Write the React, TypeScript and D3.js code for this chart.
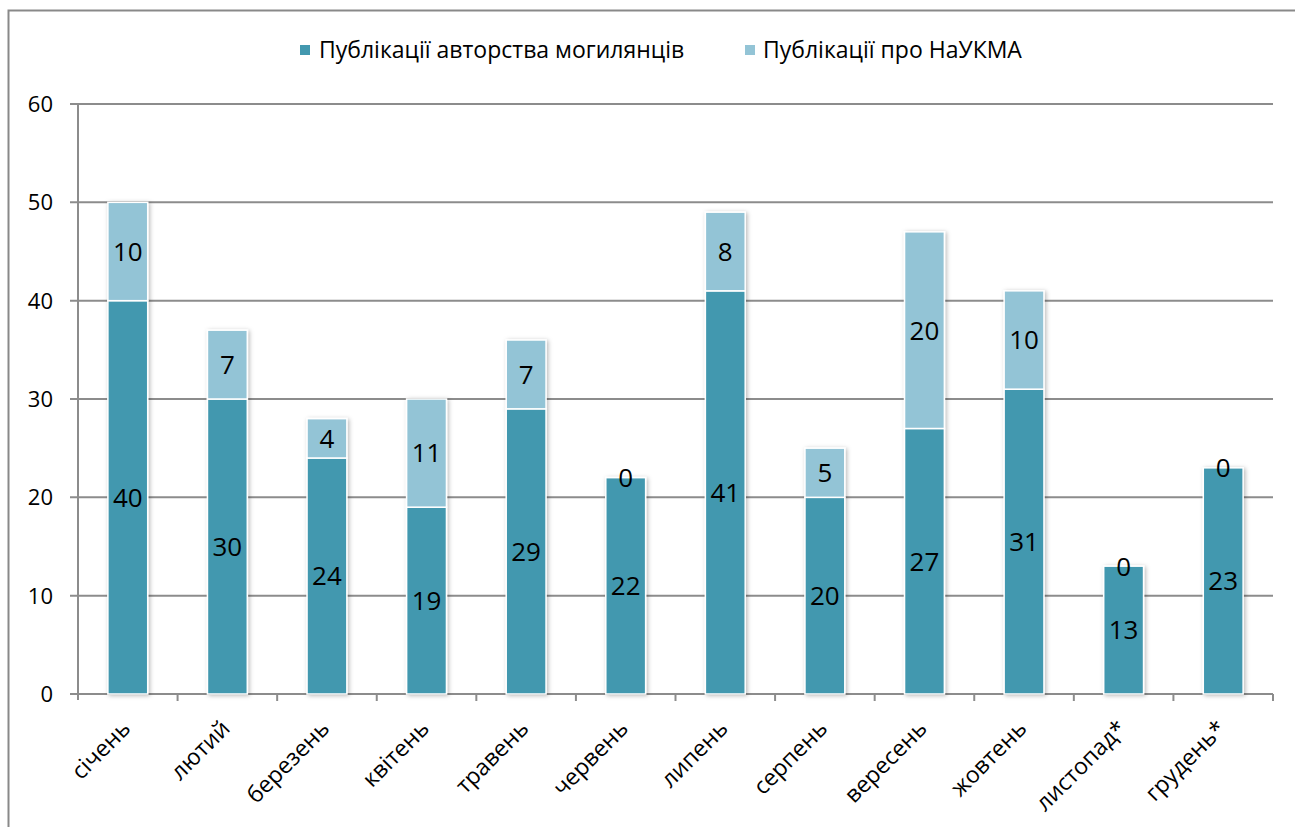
import React from "react";
import * as d3 from "d3";

const months = ["січень", "лютий", "березень", "квітень", "травень", "червень", "липень", "серпень", "вересень", "жовтень", "листопад*", "грудень*"];
const authored = [40, 30, 24, 19, 29, 22, 41, 20, 27, 31, 13, 23];
const about = [10, 7, 4, 11, 7, 0, 8, 5, 20, 10, 0, 0];
const yTicks = [0, 10, 20, 30, 40, 50, 60];
const seriesNames = ["Публікації авторства могилянців", "Публікації про НаУКМА"];
const colors = ["#4398AF", "#93C4D6"];

const W = 1295, H = 827;
const left = 78, right = 1273, top = 104, bottom = 694;
const FONT = "'Open Sans', sans-serif";

export default function App() {
  const x = d3.scaleBand<string>().domain(months).range([left, right]).paddingInner(0.6).paddingOuter(0.3);
  const y = d3.scaleLinear().domain([0, 60]).range([bottom, top]);
  const step = x.step();
  return (
    <svg width={W} height={H} style={{ position: "absolute", left: 0, top: 0, background: "#fff" }} fontFamily={FONT}>
      <defs>
        <filter id="sh" x="-30%" y="-10%" width="160%" height="120%">
          <feDropShadow dx="1.5" dy="1" stdDeviation="2" floodColor="#000" floodOpacity="0.28" />
        </filter>
      </defs>
      <rect x={8.5} y={10.5} width={W} height={H} fill="none" stroke="#898989" strokeWidth={2} />
      {/* legend */}
      <g fontSize={23} fill="#000">
        <rect x={300} y={45} width={10} height={10} fill={colors[0]} />
        <text x={319} y={58}>{seriesNames[0]}</text>
        <rect x={745} y={45} width={10} height={10} fill={colors[1]} />
        <text x={763} y={58}>{seriesNames[1]}</text>
      </g>
      {/* grid */}
      {yTicks.map((t) => (
        <g key={t}>
          <line x1={70} x2={right} y1={y(t)} y2={y(t)} stroke="#8c8c8c" strokeWidth={2} />
          <text x={53} y={y(t)} dy="0.36em" textAnchor="end" fontSize={22}>{t}</text>
        </g>
      ))}
      <line x1={left} x2={left} y1={top} y2={bottom + 6} stroke="#8c8c8c" strokeWidth={2} />
      {months.map((m, i) => (
        <line key={"t" + i} x1={left + step * (i + 1)} x2={left + step * (i + 1)} y1={bottom} y2={bottom + 7} stroke="#8c8c8c" strokeWidth={2} />
      ))}
      {/* bars */}
      {months.map((m, i) => {
        const bx = x(m)!;
        const bw = x.bandwidth();
        const y0 = y(0), y1 = y(authored[i]), y2 = y(authored[i] + about[i]);
        return (
          <g key={m} filter="url(#sh)">
            <rect x={bx} y={y1} width={bw} height={y0 - y1} fill={colors[0]} stroke="#fff" strokeWidth={1.5} />
            {about[i] > 0 && <rect x={bx} y={y2} width={bw} height={y1 - y2} fill={colors[1]} stroke="#fff" strokeWidth={1.5} />}
          </g>
        );
      })}
      {months.map((m, i) => {
        const cx = x(m)! + x.bandwidth() / 2;
        const y0 = y(0), y1 = y(authored[i]), y2 = y(authored[i] + about[i]);
        return (
          <g key={"l" + m} fontSize={26} textAnchor="middle">
            <text x={cx} y={(y0 + y1) / 2} dy="0.36em">{authored[i]}</text>
            <text x={cx} y={(y1 + y2) / 2} dy="0.36em">{about[i]}</text>
          </g>
        );
      })}
      {months.map((m, i) => {
        const cx = x(m)! + x.bandwidth() / 2;
        return (
          <text key={"x" + m} transform={`translate(${cx + 4},${bottom + 36}) rotate(-45)`} textAnchor="end" fontSize={23}>{m}</text>
        );
      })}
    </svg>
  );
}
